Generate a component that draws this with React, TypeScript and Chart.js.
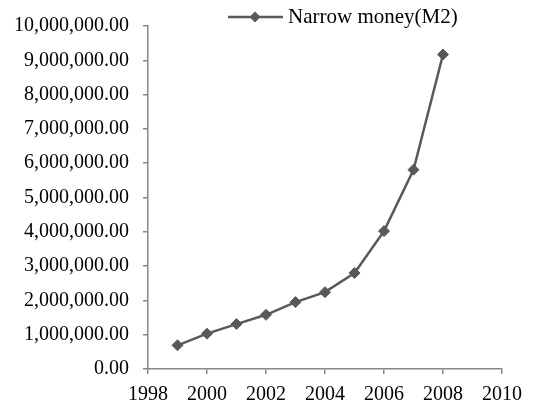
import React, { useEffect, useRef } from "react";
import { Chart, registerables } from "chart.js";

Chart.register(...registerables);

const years = [1999, 2000, 2001, 2002, 2003, 2004, 2005, 2006, 2007, 2008];
const narrowMoney = [690000, 1030000, 1310000, 1580000, 1950000, 2240000, 2800000, 4020000, 5810000, 9170000];
const seriesLabel = "Narrow money(M2)";
const xMin = 1998;
const xMax = 2010;
const xStep = 2;
const yMin = 0;
const yMax = 10000000;
const yStep = 1000000;

const FONT = "'Liberation Serif', 'Times New Roman', serif";
const LINE_COLOR = "#595959";
const AXIS_COLOR = "#868686";

const legendPlugin = {
  id: "customLegend",
  afterDraw(chart: any) {
    const ctx = chart.ctx;
    const ds = chart.data.datasets[0];
    const y = 17;
    ctx.save();
    ctx.strokeStyle = ds.borderColor;
    ctx.lineWidth = 2.5;
    ctx.beginPath();
    ctx.moveTo(228, y);
    ctx.lineTo(283, y);
    ctx.stroke();
    ctx.fillStyle = ds.backgroundColor;
    ctx.beginPath();
    ctx.moveTo(255, y - 5.5);
    ctx.lineTo(260.5, y);
    ctx.lineTo(255, y + 5.5);
    ctx.lineTo(249.5, y);
    ctx.closePath();
    ctx.fill();
    ctx.fillStyle = "#000";
    ctx.font = `21px ${FONT}`;
    ctx.textBaseline = "middle";
    ctx.textAlign = "left";
    ctx.fillText(ds.label, 288, y);
    ctx.restore();
  },
};

function fmt(v: number) {
  return v.toLocaleString("en-US", { minimumFractionDigits: 2, maximumFractionDigits: 2 });
}

export default function App() {
  const ref = useRef<HTMLCanvasElement | null>(null);
  useEffect(() => {
    if (!ref.current) return;
    const chart = new Chart(ref.current, {
      type: "line",
      data: {
        datasets: [
          {
            label: seriesLabel,
            data: years.map((y, i) => ({ x: y, y: narrowMoney[i] })),
            borderColor: LINE_COLOR,
            backgroundColor: LINE_COLOR,
            borderWidth: 2.5,
            pointStyle: "rectRot",
            pointRadius: 5.5,
            pointBorderWidth: 1,
            pointBackgroundColor: LINE_COLOR,
            pointBorderColor: LINE_COLOR,
            tension: 0,
          },
        ],
      },
      options: {
        animation: false,
        responsive: false,
        maintainAspectRatio: false,
        devicePixelRatio: 1,
        layout: { padding: { left: 0, right: 53, top: 21, bottom: 0 } },
        plugins: { legend: { display: false }, tooltip: { enabled: false } },
        scales: {
          x: {
            type: "linear",
            min: xMin,
            max: xMax,
            ticks: {
              stepSize: xStep,
              color: "#000",
              font: { family: FONT, size: 20 },
              padding: 9,
              maxRotation: 0,
              callback: (v: any) => String(v),
            },
            grid: { display: true, drawOnChartArea: false, drawTicks: true, tickLength: 5, color: AXIS_COLOR, lineWidth: 1.5 },
            border: { display: true, color: AXIS_COLOR, width: 1.5 },
            afterFit: (s: any) => { s.height = 35; },
          },
          y: {
            type: "linear",
            min: yMin,
            max: yMax,
            ticks: {
              stepSize: yStep,
              color: "#000",
              font: { family: FONT, size: 20 },
              padding: 14,
              callback: (v: any) => fmt(Number(v)),
            },
            grid: { display: true, drawOnChartArea: false, drawTicks: true, tickLength: 5, color: AXIS_COLOR, lineWidth: 1.5 },
            border: { display: true, color: AXIS_COLOR, width: 1.5 },
            afterFit: (s: any) => { s.width = 148; },
          },
        },
      },
      plugins: [legendPlugin],
    } as any);
    return () => chart.destroy();
  }, []);
  return (
    <div style={{ position: "fixed", left: 0, top: 0, width: 555, height: 404, background: "#fff" }}>
      <canvas ref={ref} width={555} height={404} style={{ width: 555, height: 404 }} />
    </div>
  );
}
